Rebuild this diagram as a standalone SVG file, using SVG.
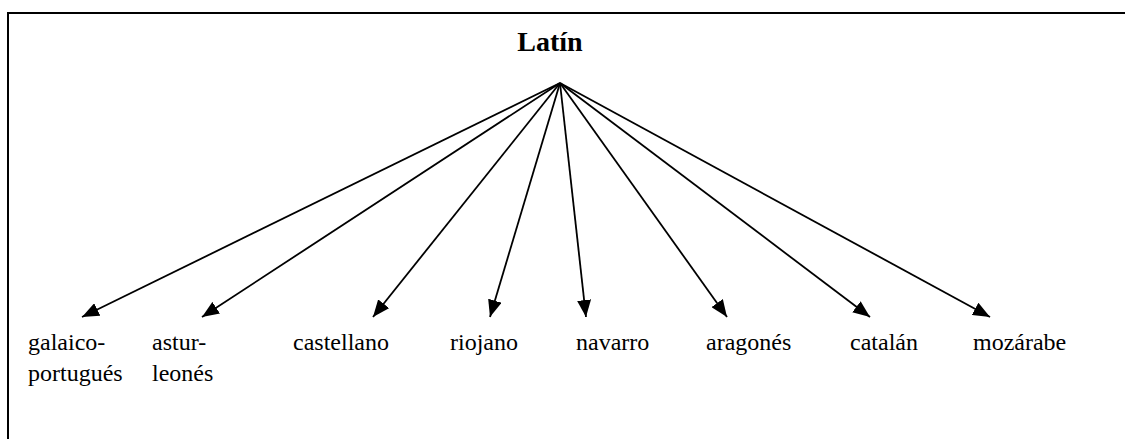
<svg xmlns="http://www.w3.org/2000/svg" width="1125" height="439" viewBox="0 0 1125 439">
<style>
text{font-family:'Liberation Serif','Times New Roman',serif;fill:#000}
.lbl{font-size:24px}
.ttl{font-size:28px;font-weight:bold}
.edge{stroke:#000;stroke-width:1.8;fill:none;marker-end:url(#ah)}
</style>
<defs>
<marker id="ah" markerUnits="userSpaceOnUse" markerWidth="17" markerHeight="14" refX="17" refY="7" orient="auto">
<path d="M0,0 L17,7 L0,14 Z" fill="#000"/>
</marker>
</defs>
<rect width="1125" height="439" fill="#fff"/>
<path d="M8,439 L8,13 L1125,13" stroke="#000" stroke-width="2" fill="none"/>
<g id="connectors">
<line class="edge" x1="560" y1="83" x2="82" y2="317"/>
<line class="edge" x1="560" y1="83" x2="202" y2="317"/>
<line class="edge" x1="560" y1="83" x2="373" y2="317"/>
<line class="edge" x1="560" y1="83" x2="490" y2="317"/>
<line class="edge" x1="560" y1="83" x2="586" y2="317"/>
<line class="edge" x1="560" y1="83" x2="727" y2="317"/>
<line class="edge" x1="560" y1="83" x2="870" y2="317"/>
<line class="edge" x1="560" y1="83" x2="990" y2="317"/>
</g>
<g id="latin"><text class="ttl" x="550" y="51" text-anchor="middle">Latín</text></g>
<g id="galaico"><text class="lbl" x="28" y="350">galaico-</text><text class="lbl" x="28" y="381">portugués</text></g>
<g id="astur"><text class="lbl" x="152" y="350">astur-</text><text class="lbl" x="152" y="381">leonés</text></g>
<g id="castellano"><text class="lbl" x="293" y="350">castellano</text></g>
<g id="riojano"><text class="lbl" x="450" y="350">riojano</text></g>
<g id="navarro"><text class="lbl" x="576" y="350">navarro</text></g>
<g id="aragones"><text class="lbl" x="706" y="350">aragonés</text></g>
<g id="catalan"><text class="lbl" x="850" y="350">catalán</text></g>
<g id="mozarabe"><text class="lbl" x="973" y="350">mozárabe</text></g>
</svg>
